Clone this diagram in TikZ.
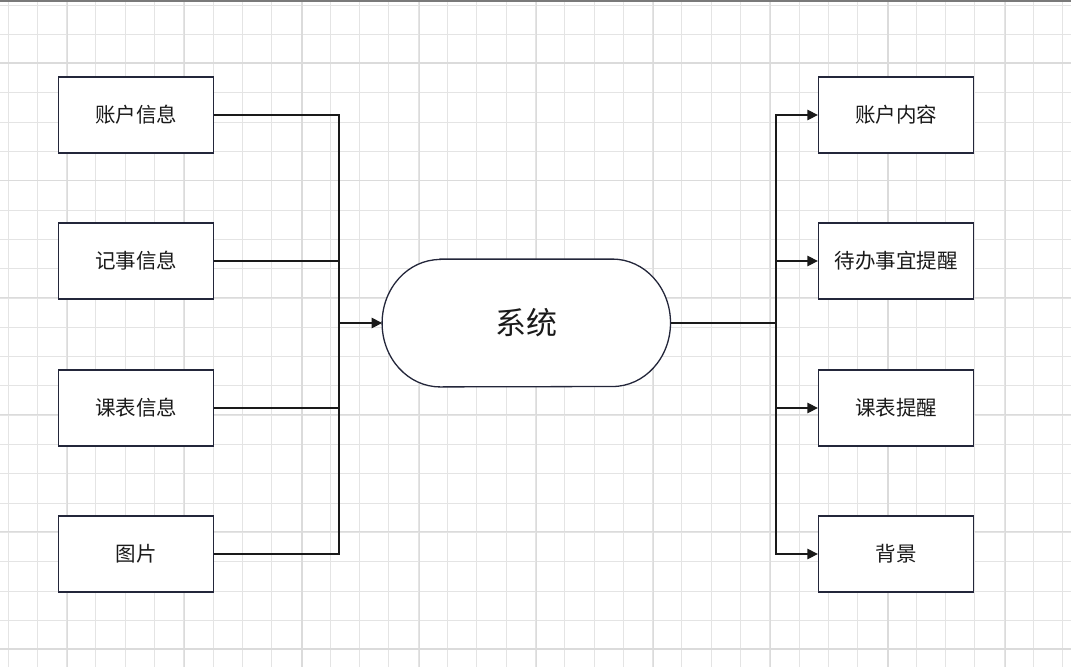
\documentclass[tikz,border=0pt]{standalone}
\usepackage{fontspec}
\newfontfamily\cjk{Noto Sans CJK SC}
\usetikzlibrary{arrows.meta}
\definecolor{gridminor}{HTML}{E4E4E4}
\definecolor{gridmajor}{HTML}{DBDBDB}
\definecolor{boxline}{HTML}{23263A}
\definecolor{edgec}{HTML}{1A1A1A}
\definecolor{topline}{HTML}{7A7A7A}
\newcommand{\lowtxt}[1]{\raisebox{-2pt}{#1}}
\begin{document}
\begin{tikzpicture}[x=1pt,y=-1pt,
  boxnode/.style={draw=boxline, line width=1.3pt, fill=white, minimum width=155pt, minimum height=76pt, inner sep=0pt, font=\cjk\fontsize{20.5}{24}\selectfont, text=edgec},
  sysnode/.style={minimum width=288pt, minimum height=127.4pt, inner sep=0pt, font=\cjk\fontsize{31}{36}\selectfont, text=edgec},
  conn/.style={draw=edgec, line width=1.3pt},
  arr/.style={conn, -{Triangle[length=10.5pt,width=10.5pt]}},
  minorline/.style={draw=gridminor, line width=1pt},
  majorline/.style={draw=gridmajor, line width=1.2pt}]
\useasboundingbox (0,0) rectangle (1071,667);
\fill[white] (0,0) rectangle (1071,667);
% grid
\foreach \i in {0,...,36} \draw[minorline] ({8+\i*29.3},0) -- ({8+\i*29.3},667);
\foreach \i in {0,...,22} \draw[minorline] (0,{5+\i*29.3}) -- (1071,{5+\i*29.3});
\foreach \i in {-2,...,6} \draw[majorline] ({302+\i*117.2},0) -- ({302+\i*117.2},667);
\foreach \i in {0,...,5} \draw[majorline] (0,{63+\i*117.2}) -- (1071,{63+\i*117.2});
\draw[topline, line width=2pt] (0,1) -- (1071,1);

% nodes
\node[boxnode] (l1) at (136.2,115) {\lowtxt{账户信息}};
\node[boxnode] (l2) at (136.2,261) {\lowtxt{记事信息}};
\node[boxnode] (l3) at (136.2,408) {\lowtxt{课表信息}};
\node[boxnode] (l4) at (136.2,554) {\lowtxt{图片}};
\node[boxnode] (r1) at (896,115) {\lowtxt{账户内容}};
\node[boxnode] (r2) at (896,261) {\lowtxt{待办事宜提醒}};
\node[boxnode] (r3) at (896,408) {\lowtxt{课表提醒}};
\node[boxnode] (r4) at (896,554) {\lowtxt{背景}};

\node[sysnode] (sys) at (526.3,323) {};
\draw[draw=boxline, line width=1.3pt, fill=white]
  ([xshift=58pt]sys.north west) -- ([xshift=-58pt]sys.north east)
  arc[start angle=90, end angle=-90, x radius=58pt, y radius=63.7pt]
  -- ([xshift=58pt]sys.south west)
  arc[start angle=270, end angle=90, x radius=58pt, y radius=63.7pt] -- cycle;
\node[sysnode] at (sys.center) {\lowtxt{系统}};

% connectors
\coordinate (jl) at (339,323);
\coordinate (jr) at (776,323);
\foreach \n in {l1,l2,l3,l4} \draw[conn] (\n.east) -| (jl);
\draw[arr] (jl) -- (sys.west);
\draw[conn] (sys.east) -- (jr);
\foreach \n in {r1,r2,r3,r4} \draw[arr] (jr) |- (\n.west);
\end{tikzpicture}
\end{document}
